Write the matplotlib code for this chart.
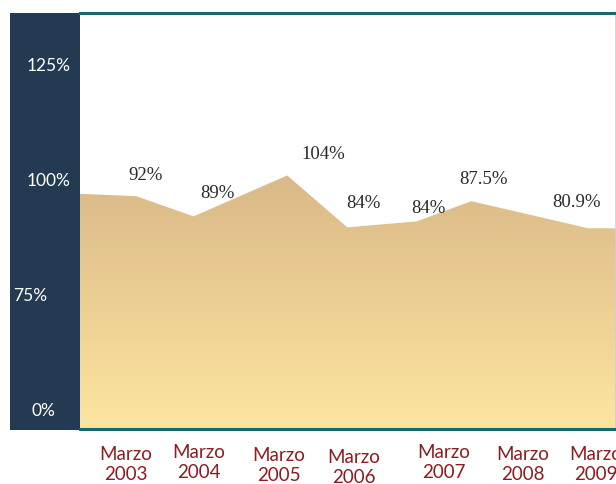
import numpy as np
import matplotlib
matplotlib.use("Agg")
import matplotlib.pyplot as plt
from matplotlib.colors import LinearSegmentedColormap
from matplotlib.patches import Rectangle
from matplotlib.transforms import ScaledTranslation

# area outline: x in years, y in percent on the broken axis
AREA_X = [2002.42, 2003.14, 2003.88, 2005.08, 2005.85, 2006.74, 2007.44, 2008.94, 2009.30]
AREA_Y = [96.7, 96.2, 91.8, 100.7, 89.4, 90.7, 95.1, 89.2, 89.2]

# value labels written over the area
VALUE_LABELS = ["92%", "89%", "104%", "84%", "84%", "87.5%", "80.9%"]
VALUE_X = [2003.26, 2004.19, 2005.54, 2006.06, 2006.89, 2007.59, 2008.79]
VALUE_Y = [101.0, 97.0, 105.5, 94.8, 93.7, 100.0, 95.1]

YEARS = [2003, 2004, 2005, 2006, 2007, 2008, 2009]
YEAR_LABELS = ["Marzo\n%d" % y for y in YEARS]
YTICKS = [0, 75, 100, 125]
YTICK_LABELS = ["0%", "75%", "100%", "125%"]

# per-label nudges (px) to mimic the hand placed labels
XLAB_DX = [0.5, -4, -2.5, -5.5, 7, 8, 2.5]
XLAB_DY = [0, 2, -1, -3, 2, 0, 0]
YLAB_DX = [-15, -23, 0, 0]

NAVY = "#243a52"
TEAL = "#19686c"
RED = "#8e1b1f"

# broken y axis: 0 / 75 / 100 / 125 evenly spaced
BRK_V = [-300, 0, 75, 100, 125, 400]
BRK_P = [-4, 0, 1, 2, 3, 14]


def fwd(v):
    return np.interp(v, BRK_V, BRK_P)


def inv(p):
    return np.interp(p, BRK_P, BRK_V)


W, H = 616, 485
fig = plt.figure(figsize=(W / 100, H / 100), dpi=100)
fig.patch.set_facecolor("white")

# navy panel behind the y labels
fig.add_artist(Rectangle((10 / W, (H - 431) / H), 70 / W, 417 / H,
                         transform=fig.transFigure, facecolor=NAVY,
                         edgecolor="none", zorder=-5))

ax = fig.add_axes([80 / W, (H - 430) / H, 536 / W, 416 / H])
ax.set_zorder(1)
ax.set_yscale("function", functions=(fwd, inv))
ax.set_xlim(2002.423, 2009.295)
ax.set_ylim(-13.6, 136.1)

# gradient clipped to the area
poly = ax.fill_between(AREA_X, AREA_Y, -13.6, facecolor="none", edgecolor="none")
top = ax.transAxes.inverted().transform(ax.transData.transform((2005, max(AREA_Y))))[1]
cmap = LinearSegmentedColormap.from_list("sand", ["#fde5a0", "#eccf94", "#d9b988"])
grad = np.linspace(0, 1, 256).reshape(-1, 1)
im = ax.imshow(grad, cmap=cmap, origin="lower", aspect="auto",
               extent=[0, 1, 0, top], transform=ax.transAxes, zorder=1)
im.set_clip_path(poly.get_paths()[0], transform=ax.transData)

for lab, x, y in zip(VALUE_LABELS, VALUE_X, VALUE_Y):
    ax.text(x, y, lab, ha="center", va="center", fontsize=13.5,
            family="Liberation Serif", color="#2a2a2a", zorder=3)

# spines
ax.spines["left"].set_visible(False)
ax.spines["top"].set_color(TEAL)
ax.spines["top"].set_linewidth(2.2)
ax.spines["bottom"].set_color(TEAL)
ax.spines["bottom"].set_linewidth(2.2)
ax.spines["right"].set_color("#c9d3d2")
ax.spines["right"].set_linewidth(1.2)

ax.set_yticks(YTICKS)
ax.set_yticklabels(YTICK_LABELS)
ax.set_xticks(YEARS)
ax.set_xticklabels(YEAR_LABELS)
ax.tick_params(axis="y", length=0, pad=7, labelcolor="white", labelsize=12.5)
ax.tick_params(axis="x", length=0, pad=11.5, labelcolor=RED, labelsize=13.5)
for t in ax.get_yticklabels():
    t.set_family("Lato")
for t in ax.get_xticklabels():
    t.set_family("Lato")
    t.set_linespacing(1.25)

for t, dx in zip(ax.get_yticklabels(), YLAB_DX):
    t.set_transform(t.get_transform() + ScaledTranslation(dx / 100, 0, fig.dpi_scale_trans))
for t, dx, dy in zip(ax.get_xticklabels(), XLAB_DX, XLAB_DY):
    t.set_transform(t.get_transform() + ScaledTranslation(dx / 100, dy / 100, fig.dpi_scale_trans))

fig.savefig("out.png", dpi=100)
